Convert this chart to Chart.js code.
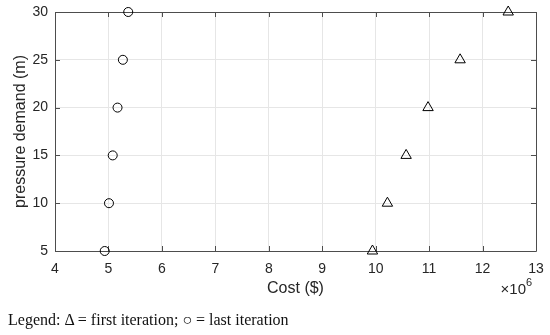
<!DOCTYPE html>
<html>
<head>
<meta charset="utf-8">
<script src="https://cdn.jsdelivr.net/npm/chart.js@4"></script>
<style>
  html, body { margin: 0; padding: 0; background: #fff; }
  #wrap { position: relative; width: 550px; height: 335px; }
  #chart { position: absolute; left: 0; top: 0; }
  #legend {
    position: absolute; left: 8px; top: 311px;
    font-family: "Liberation Serif", "DejaVu Serif", serif;
    font-size: 16px; color: #111; white-space: nowrap;
  }
</style>
</head>
<body>
<div id="wrap">
  <canvas id="chart" width="550" height="335"></canvas>
  <div id="legend">Legend: &Delta; = first iteration; &#9675; = last iteration</div>
</div>
<script>
// pressure demand (m) for each run
const pressureDemand = [5, 10, 15, 20, 25, 30];
// cost in units of 10^6 $
const costFirstIter = [9.94, 10.22, 10.57, 10.98, 11.58, 12.48];
const costLastIter = [4.93, 5.01, 5.08, 5.17, 5.27, 5.37];
const xTickValues = [4, 5, 6, 7, 8, 9, 10, 11, 12, 13];
const yTickValues = [5, 10, 15, 20, 25, 30];

const AXIS_COLOR = '#262626';
const BOX_COLOR = '#4d4d4d';
const GRID_COLOR = '#e6e6e6';
const FONT = '"Liberation Sans", Arial, sans-serif';

const toPoints = (xs, ys) => xs.map((x, i) => ({ x, y: ys[i] }));

// MATLAB-like box with inward ticks on all four sides, plus the x10^6 exponent
const boxPlugin = {
  id: 'matlabBox',
  beforeDatasetsDraw(chart) {
    const { ctx, chartArea: a, scales } = chart;
    const len = 5;
    ctx.save();
    ctx.strokeStyle = BOX_COLOR;
    ctx.lineWidth = 1;
    ctx.beginPath();
    ctx.rect(Math.round(a.left) + 0.5, Math.round(a.top) + 0.5,
      Math.round(a.right - a.left), Math.round(a.bottom - a.top));
    xTickValues.forEach(v => {
      const px = Math.round(scales.x.getPixelForValue(v)) + 0.5;
      ctx.moveTo(px, a.bottom); ctx.lineTo(px, a.bottom - len);
      ctx.moveTo(px, a.top); ctx.lineTo(px, a.top + len);
    });
    yTickValues.forEach(v => {
      const py = Math.round(scales.y.getPixelForValue(v)) + 0.5;
      ctx.moveTo(a.left, py); ctx.lineTo(a.left + len, py);
      ctx.moveTo(a.right, py); ctx.lineTo(a.right - len, py);
    });
    ctx.stroke();
    ctx.restore();
  },
  afterDraw(chart) {
    const { ctx, chartArea: a } = chart;
    ctx.save();
    ctx.fillStyle = AXIS_COLOR;
    ctx.textBaseline = 'alphabetic';
    ctx.textAlign = 'right';
    ctx.font = '15px ' + FONT;
    ctx.fillText('\u00d710', a.right - 10, a.bottom + 43);
    ctx.textAlign = 'left';
    ctx.font = '11px ' + FONT;
    ctx.fillText('6', a.right - 10, a.bottom + 35);
    ctx.restore();
  }
};

new Chart(document.getElementById('chart'), {
  type: 'scatter',
  data: {
    datasets: [
      {
        label: 'first iteration',
        data: toPoints(costFirstIter, pressureDemand),
        pointStyle: 'triangle',
        pointRadius: 6,
        borderColor: '#000',
        backgroundColor: 'rgba(0,0,0,0)',
        borderWidth: 1,
        clip: false,
      },
      {
        label: 'last iteration',
        data: toPoints(costLastIter, pressureDemand),
        pointStyle: 'circle',
        pointRadius: 4.5,
        borderColor: '#000',
        backgroundColor: 'rgba(0,0,0,0)',
        borderWidth: 1,
        clip: false,
      },
    ],
  },
  options: {
    responsive: false,
    animation: false,
    layout: { padding: { top: 12, right: 14, bottom: 0, left: 0 } },
    plugins: { legend: { display: false }, tooltip: { enabled: false } },
    scales: {
      x: {
        type: 'linear',
        min: 4, max: 13,
        afterFit(scale) {
          scale.height = 84;
          scale.paddingLeft = 0;
          scale.paddingRight = 0;
        },
        afterBuildTicks(scale) { scale.ticks = xTickValues.map(v => ({ value: v })); },
        grid: { color: GRID_COLOR, drawTicks: false },
        border: { display: false },
        ticks: { color: AXIS_COLOR, font: { family: FONT, size: 14 }, padding: 10, maxRotation: 0 },
        title: {
          display: true, text: 'Cost ($)', color: AXIS_COLOR,
          font: { family: FONT, size: 16 }, padding: { top: 0, bottom: 37 },
        },
      },
      y: {
        type: 'linear',
        min: 5, max: 30,
        afterFit(scale) {
          scale.width = 55;
          scale.paddingTop = 0;
          scale.paddingBottom = 0;
        },
        afterBuildTicks(scale) { scale.ticks = yTickValues.map(v => ({ value: v })); },
        grid: { color: GRID_COLOR, drawTicks: false },
        border: { display: false },
        ticks: { color: AXIS_COLOR, font: { family: FONT, size: 14 }, padding: 7 },
        title: {
          display: true, text: 'pressure demand (m)', color: AXIS_COLOR,
          font: { family: FONT, size: 16 }, padding: { top: 11, bottom: 0 },
        },
      },
    },
  },
  plugins: [boxPlugin],
});
</script>
</body>
</html>
